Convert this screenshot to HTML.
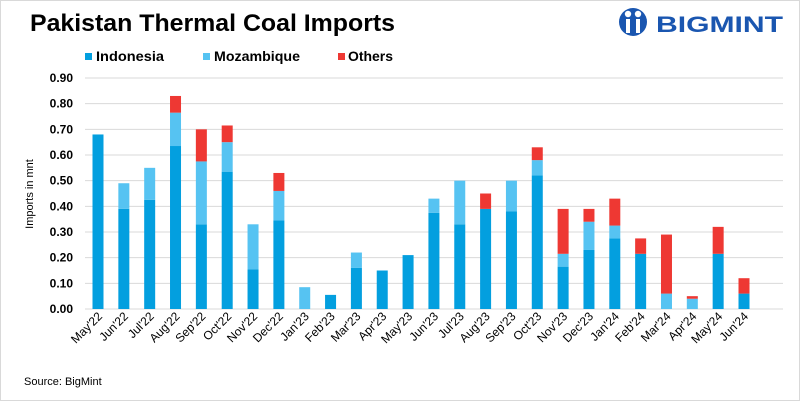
<!DOCTYPE html>
<html><head><meta charset="utf-8"><style>
body{margin:0;background:#fff;}
svg{display:block;font-family:"Liberation Sans",sans-serif;}
</style></head><body>
<svg id="c" width="800" height="401">
<rect x="0.5" y="0.5" width="799" height="400" fill="#fff" stroke="#d9d9d9"/>
<text x="30" y="31" font-size="24" font-weight="bold" fill="#000" textLength="365" lengthAdjust="spacingAndGlyphs">Pakistan Thermal Coal Imports</text>
<g>
<circle cx="633" cy="22" r="14" fill="#1a56b0"/>
<circle cx="628" cy="14" r="3.2" fill="#fff"/><circle cx="638" cy="14" r="3.2" fill="#fff"/>
<rect x="626" y="19" width="4" height="14" fill="#fff"/><rect x="636" y="19" width="4" height="14" fill="#fff"/>
<text x="656" y="32" font-size="22" font-weight="bold" fill="#1a56b0" textLength="127" lengthAdjust="spacingAndGlyphs">BIGMINT</text>
</g>
<g font-size="14" font-weight="bold" fill="#000">
<rect x="85" y="53" width="7" height="7" fill="#039fdf"/>
<text x="96" y="61" textLength="68" lengthAdjust="spacingAndGlyphs">Indonesia</text>
<rect x="203" y="53" width="7" height="7" fill="#56c3f2"/>
<text x="214" y="61" textLength="86" lengthAdjust="spacingAndGlyphs">Mozambique</text>
<rect x="338" y="53" width="7" height="7" fill="#ee3833"/>
<text x="348" y="61" textLength="45" lengthAdjust="spacingAndGlyphs">Others</text>
</g>
<text transform="translate(33,194) rotate(-90)" text-anchor="middle" font-size="11">Imports in mnt</text>
<text x="24" y="385" font-size="11">Source: BigMint</text>
<g id="grid"></g><g id="bars"></g><g id="xl"></g>
</svg>
<script>
const categories=["May'22","Jun'22","Jul'22","Aug'22","Sep'22","Oct'22","Nov'22","Dec'22","Jan'23","Feb'23","Mar'23","Apr'23","May'23","Jun'23","Jul'23","Aug'23","Sep'23","Oct'23","Nov'23","Dec'23","Jan'24","Feb'24","Mar'24","Apr'24","May'24","Jun'24"];
const indonesia=[0.68,0.39,0.425,0.635,0.33,0.535,0.155,0.345,0,0.055,0.16,0.15,0.21,0.375,0.33,0.39,0.38,0.52,0.165,0.23,0.275,0.215,0,0,0.215,0.06];
const mozambique=[0,0.10,0.125,0.13,0.245,0.115,0.175,0.115,0.085,0,0.06,0,0,0.055,0.17,0,0.12,0.06,0.05,0.11,0.05,0,0.06,0.04,0,0];
const others=[0,0,0,0.065,0.125,0.065,0,0.07,0,0,0,0,0,0,0,0.06,0,0.05,0.175,0.05,0.105,0.06,0.23,0.01,0.105,0.06];
const yTicks=[0,0.1,0.2,0.3,0.4,0.5,0.6,0.7,0.8,0.9];
const NS="http://www.w3.org/2000/svg";
const y=v=>309-v*(231/0.9);
const x=i=>98+i*25.84;
function mk(t,a,p){const e=document.createElementNS(NS,t);for(const k in a)e.setAttribute(k,a[k]);p.appendChild(e);return e;}
const g=document.getElementById('grid');
yTicks.forEach(t=>{
 const l=mk('line',{x1:85,x2:783,y1:y(t),y2:y(t),stroke:'#d9d9d9','stroke-width':1},g);
 
 
 const tx=mk('text',{x:73,y:y(t)+4,'text-anchor':'end','font-size':12,'font-weight':'bold'},g);
 tx.textContent=t.toFixed(2);
 
 
});
const b=document.getElementById('bars');
const series=[[indonesia,'#039fdf','indonesia'],[mozambique,'#56c3f2','mozambique'],[others,'#ee3833','others']];
categories.forEach((c,i)=>{
 let base=0;
 series.forEach(([arr,col,nm])=>{
  const v=arr[i];
  if(v>0){
   const r=mk('rect',{x:x(i)-5.5,width:11,y:y(base+v),height:y(base)-y(base+v),fill:col},b);
   
   
  }
  base+=v;
 });
 const t=mk('text',{transform:`translate(${x(i)+5},317) rotate(-45)`,'text-anchor':'end','font-size':12},document.getElementById('xl'));
 t.textContent=c;
 
 
});
</script>
</body></html>
